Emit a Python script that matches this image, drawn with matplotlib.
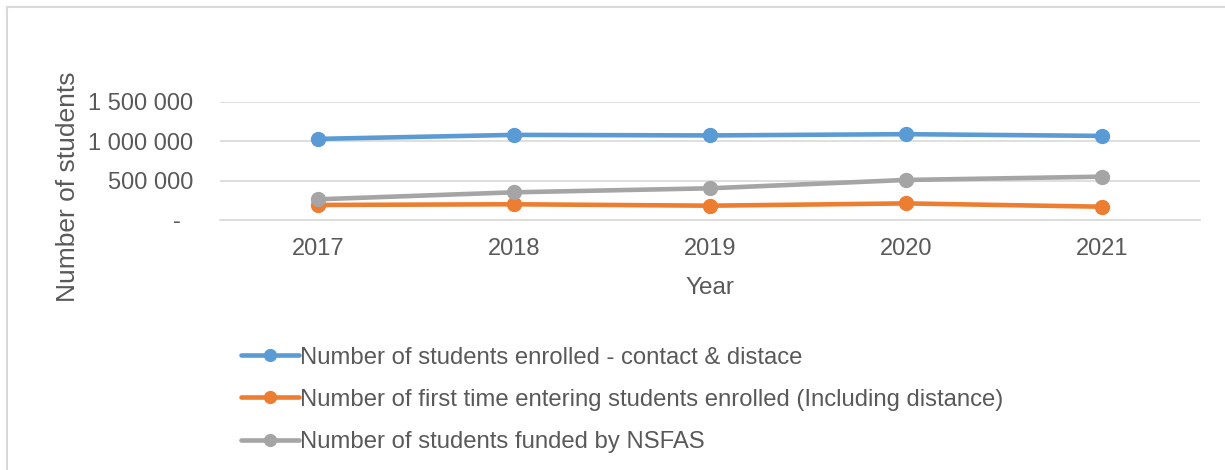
import matplotlib
matplotlib.use("Agg")
import matplotlib.pyplot as plt
from matplotlib.lines import Line2D
from matplotlib.ticker import FuncFormatter

years = ["2017", "2018", "2019", "2020", "2021"]
enrolled = [1031000, 1082000, 1075000, 1091000, 1069000]
first_time = [191000, 200000, 182000, 211000, 169000]
nsfas = [263000, 352000, 403000, 509000, 551000]
labels = ["Number of students enrolled - contact & distace",
          "Number of first time entering students enrolled (Including distance)",
          "Number of students funded by NSFAS"]
colors = ["#5B9BD5", "#ED7D31", "#A5A5A5"]

plt.rcParams['font.family'] = ['Liberation Sans', 'DejaVu Sans']
txt = '#595959'


def fmt(v, pos):
    if v == 0:
        return "-  "
    return "{:,.0f}".format(v).replace(",", " ")


fig = plt.figure(figsize=(12.25, 4.7), dpi=100)
# chart-area border (top and left edges visible)
fig.add_artist(Line2D([7 / 1225, 1.0], [1 - 6.5 / 470] * 2, transform=fig.transFigure,
                      color='#D9D9D9', linewidth=1.5))
fig.add_artist(Line2D([7 / 1225] * 2, [0, 1 - 6.5 / 470], transform=fig.transFigure,
                      color='#D9D9D9', linewidth=1.5))

ax = fig.add_axes([220 / 1225, 1 - 220 / 470, 980 / 1225, 118 / 470])

x = list(range(len(years)))
for vals, lab, c in zip([enrolled, first_time, nsfas], labels, colors):
    ax.plot(x, vals, color=c, linewidth=3.3, marker='o', markersize=10,
            label=lab, solid_capstyle='round')

ax.set_xlim(-0.5, len(years) - 0.5)
ax.set_ylim(0, 1500000)
ax.set_yticks([0, 500000, 1000000, 1500000])
ax.yaxis.set_major_formatter(FuncFormatter(fmt))
ax.set_xticks(x)
ax.set_xticklabels(years)
ax.grid(axis='y', color='#D9D9D9', linewidth=1.2)
ax.set_axisbelow(True)
for s in ['top', 'right', 'left']:
    ax.spines[s].set_visible(False)
ax.spines['bottom'].set_color('#D9D9D9')
ax.spines['bottom'].set_linewidth(1.2)
ax.tick_params(length=0, labelsize=17, labelcolor=txt)
ax.tick_params(axis='y', pad=19)
ax.tick_params(axis='x', pad=13)
ax.set_xlabel("Year", fontsize=17.5, color=txt, labelpad=12)
ax.set_ylabel("Number of students", fontsize=19, color=txt)
ax.yaxis.set_label_coords(-0.143, 0.28)

handles, lbls = ax.get_legend_handles_labels()
fig.legend(handles, lbls, loc='upper left', bbox_to_anchor=(219 / 1225, 1 - 325 / 470),
           frameon=False, fontsize=17.2, labelcolor=txt, handlelength=2.45,
           handletextpad=0.05, labelspacing=0.85, markerscale=0.85)

fig.savefig("out.png", dpi=100)
